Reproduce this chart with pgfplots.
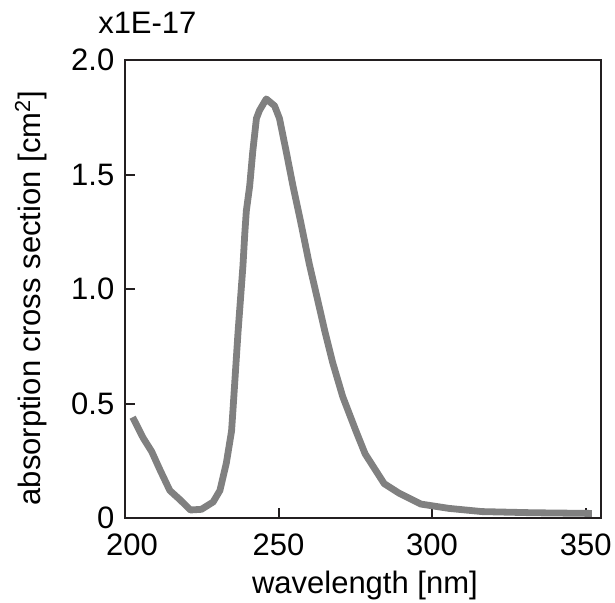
\documentclass[border=0pt]{standalone}
\usepackage{fontspec}
\setmainfont{Liberation Sans}
\usepackage{pgfplots}
\pgfplotsset{compat=1.18}
\definecolor{curvegray}{RGB}{128,128,128}
\definecolor{axisblack}{RGB}{35,31,32}
\begin{document}
\fontsize{15.5}{18}\selectfont
\begin{tikzpicture}[x=1pt,y=1pt]
\path[use as bounding box] (-62.5,-42) rectangle (245,259);
\begin{axis}[
  at={(0,0)}, anchor=south west,
  width=238pt, height=229pt, scale only axis,
  xmin=200, xmax=355, ymin=0, ymax=2.0,
  xtick={200,250,300,350},
  xticklabels={\hspace{7pt}200,250,300,350},
  ytick={0,0.5,1,1.5,2},
  yticklabels={0,0.5,1.0,1.5,2.0},
  tick align=inside, xtick pos=bottom, ytick pos=left,
  major tick length=5pt,
  axis line style={axisblack, line width=1pt},
  every tick/.style={axisblack, line width=1pt},
  /pgf/number format/assume math mode=true,
  xticklabel style={yshift=-2.5pt},
  xlabel={wavelength [nm]},
  ylabel={absorption cross section [cm\textsuperscript{2}]},
  every axis x label/.style={at={(axis description cs:0.504,-0.114)}, anchor=north, inner sep=0pt},
  every axis y label/.style={at={(axis description cs:-0.1975,0.48)}, rotate=90, anchor=center, inner sep=0pt},
  clip=false,
]
\addplot[curvegray, line width=3.4pt, line join=round] coordinates {
(202.5,0.44) (205.9,0.35) (208.7,0.29) (211.4,0.21) (214.6,0.12) (217.9,0.08)
(221.3,0.035) (224.9,0.038) (228.7,0.07) (230.9,0.12) (233.0,0.24) (234.7,0.38)
(235.1,0.46) (236.8,0.81) (238.4,1.10) (239.0,1.24) (239.5,1.34) (240.6,1.45)
(241.6,1.60) (242.8,1.745) (243.8,1.78) (246.0,1.83) (248.7,1.80) (250.3,1.745)
(252.5,1.60) (254.7,1.45) (257.1,1.30) (260.0,1.11) (262.6,0.96) (265.0,0.82)
(267.6,0.68) (270.9,0.53) (275.2,0.38) (278.2,0.28) (284.4,0.15)
(289.3,0.108) (296.3,0.061) (305.5,0.042) (316.3,0.028) (332.6,0.023) (352.0,0.02)
};
\node[anchor=center, inner sep=0pt] at (rel axis cs:0.047,1.082) {x1E-17};
\end{axis}
\end{tikzpicture}
\end{document}
